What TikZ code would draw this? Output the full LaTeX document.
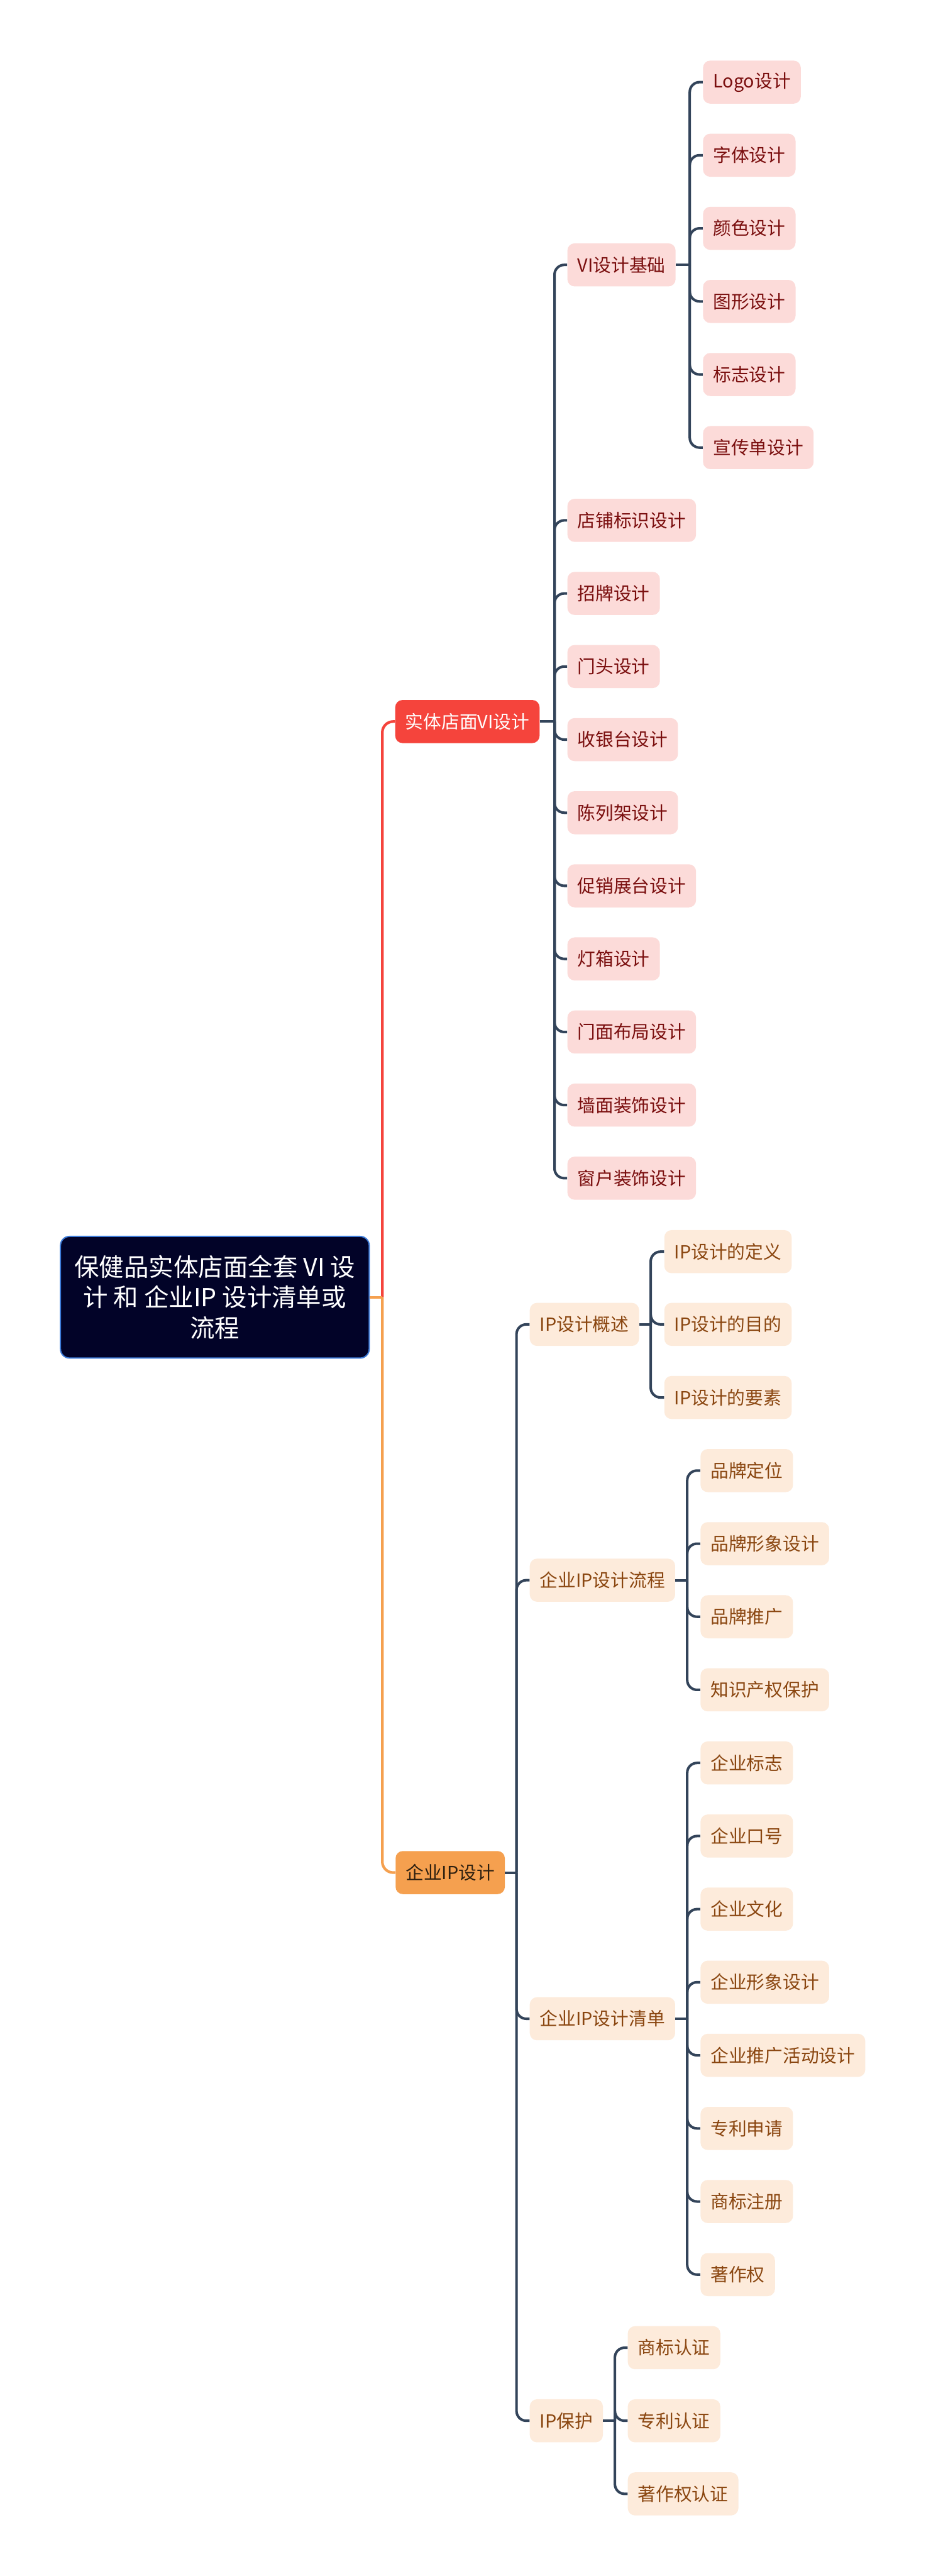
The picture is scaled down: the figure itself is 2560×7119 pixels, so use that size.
\documentclass[tikz,border=0pt]{standalone}
\usepackage{fontspec}
\setmainfont{Noto Sans CJK SC}
\usepackage{xcolor}
\usepackage{tikz}
\usetikzlibrary{positioning,calc}

\definecolor{rootfill}{HTML}{020328}
\definecolor{rootedge}{HTML}{3D7BD8}
\definecolor{shopred}{HTML}{F5443C}
\definecolor{iporange}{HTML}{F5A04F}
\definecolor{ipdark}{HTML}{2E2010}
\definecolor{pinkfill}{HTML}{FCDBD9}
\definecolor{pinktext}{HTML}{7A0E0E}
\definecolor{peachfill}{HTML}{FDEBDB}
\definecolor{peachtext}{HTML}{8A4610}
\definecolor{branchnavy}{HTML}{33445A}

\begin{document}
\begin{tikzpicture}[
    x=0.01cm, y=-0.01cm,
    font=\fontsize{14.2}{17}\selectfont,
    rootbox/.style={draw=rootedge, line width=1pt, fill=rootfill, rounded corners=0.25cm, text=white, align=center, minimum width=8.53cm, minimum height=3.36cm, font=\fontsize{19.5}{24}\selectfont},
    mainbox/.style={anchor=west, rounded corners=0.2cm, minimum height=1.19cm, inner xsep=0.28cm},
    shopbox/.style={mainbox, fill=pinkfill, text=pinktext},
    ipbox/.style={mainbox, fill=peachfill, text=peachtext},
    redline/.style={draw=shopred, line width=2.1pt, rounded corners=0.3cm},
    orgline/.style={draw=iporange, line width=2.1pt, rounded corners=0.3cm},
    navline/.style={draw=branchnavy, line width=2pt, rounded corners=0.27cm}
]
\fill[white] (0,0) rectangle (2560,7119);
\useasboundingbox (0,0) rectangle (2560,7119);

\node[rootbox] (root) at (594,3585) {保健品实体店面全套 VI 设\\计 和 企业IP 设计清单或\\流程};

\node[mainbox, fill=shopred, text=white] (shop) at (1092,1994) {实体店面VI设计};
\node[mainbox, fill=iporange, text=ipdark] (ipd) at (1093,5175) {企业IP设计};

\node[shopbox] (viBase) at (1568,732) {VI设计基础};
\node[shopbox] (signage) at (1568,1438) {店铺标识设计};
\node[shopbox] (signboard) at (1568,1640) {招牌设计};
\node[shopbox] (doorhead) at (1568,1842) {门头设计};
\node[shopbox] (cashier) at (1568,2044) {收银台设计};
\node[shopbox] (shelf) at (1568,2246) {陈列架设计};
\node[shopbox] (promo) at (1568,2448) {促销展台设计};
\node[shopbox] (lightbox) at (1568,2650) {灯箱设计};
\node[shopbox] (layout) at (1568,2852) {门面布局设计};
\node[shopbox] (wall) at (1568,3054) {墙面装饰设计};
\node[shopbox] (window) at (1568,3256) {窗户装饰设计};

\node[shopbox] (logo) at (1943,227) {Logo设计};
\node[shopbox] (typeface) at (1943,429) {字体设计};
\node[shopbox] (colour) at (1943,631) {颜色设计};
\node[shopbox] (graphic) at (1943,833) {图形设计};
\node[shopbox] (mark) at (1943,1035) {标志设计};
\node[shopbox] (flyer) at (1943,1237) {宣传单设计};

\node[ipbox] (ipIntro) at (1464,3660) {IP设计概述};
\node[ipbox] (ipFlow) at (1464,4367) {企业IP设计流程};
\node[ipbox] (ipList) at (1464,5579) {企业IP设计清单};
\node[ipbox] (ipProtect) at (1464,6690) {IP保护};

\node[ipbox] (ipDef) at (1836,3459) {IP设计的定义};
\node[ipbox] (ipGoal) at (1836,3660) {IP设计的目的};
\node[ipbox] (ipElem) at (1836,3862) {IP设计的要素};

\node[ipbox] (brandPos) at (1936,4064) {品牌定位};
\node[ipbox] (brandImg) at (1936,4266) {品牌形象设计};
\node[ipbox] (brandPromo) at (1936,4468) {品牌推广};
\node[ipbox] (ipRights) at (1936,4670) {知识产权保护};

\node[ipbox] (corpLogo) at (1936,4872) {企业标志};
\node[ipbox] (corpSlogan) at (1936,5074) {企业口号};
\node[ipbox] (corpCulture) at (1936,5276) {企业文化};
\node[ipbox] (corpImage) at (1936,5478) {企业形象设计};
\node[ipbox] (corpEvent) at (1936,5680) {企业推广活动设计};
\node[ipbox] (patentApp) at (1936,5882) {专利申请};
\node[ipbox] (tmReg) at (1936,6084) {商标注册};
\node[ipbox] (copyright) at (1936,6286) {著作权};

\node[ipbox] (tmCert) at (1735,6488) {商标认证};
\node[ipbox] (patentCert) at (1735,6690) {专利认证};
\node[ipbox] (copyCert) at (1735,6892) {著作权认证};

\coordinate (rootX) at (1057,3585);
\coordinate (shopX) at (1533,1994);
\coordinate (viX) at (1907,732);
\coordinate (ipdX) at (1428,5175);
\coordinate (introX) at (1799,3660);
\coordinate (flowX) at (1900,4367);
\coordinate (listX) at (1900,5579);
\coordinate (protX) at (1700,6690);

\draw[redline] (rootX) |- (shop.west);
\draw[orgline] (rootX) |- (ipd.west);
\draw[orgline] (root.east) -- (rootX);

\draw[navline] (shop.east) -- (shopX);
\draw[navline] (shopX) |- (viBase.west);
\draw[navline] (shopX) |- (signage.west);
\draw[navline] (shopX) |- (signboard.west);
\draw[navline] (shopX) |- (doorhead.west);
\draw[navline] (shopX) |- (cashier.west);
\draw[navline] (shopX) |- (shelf.west);
\draw[navline] (shopX) |- (promo.west);
\draw[navline] (shopX) |- (lightbox.west);
\draw[navline] (shopX) |- (layout.west);
\draw[navline] (shopX) |- (wall.west);
\draw[navline] (shopX) |- (window.west);

\draw[navline] (viBase.east) -- (viX);
\draw[navline] (viX) |- (logo.west);
\draw[navline] (viX) |- (typeface.west);
\draw[navline] (viX) |- (colour.west);
\draw[navline] (viX) |- (graphic.west);
\draw[navline] (viX) |- (mark.west);
\draw[navline] (viX) |- (flyer.west);

\draw[navline] (ipd.east) -- (ipdX);
\draw[navline] (ipdX) |- (ipIntro.west);
\draw[navline] (ipdX) |- (ipFlow.west);
\draw[navline] (ipdX) |- (ipList.west);
\draw[navline] (ipdX) |- (ipProtect.west);

\draw[navline] (ipIntro.east) -- (introX);
\draw[navline] (introX) |- (ipDef.west);
\draw[navline] (introX) |- (ipGoal.west);
\draw[navline] (introX) |- (ipElem.west);

\draw[navline] (ipFlow.east) -- (flowX);
\draw[navline] (flowX) |- (brandPos.west);
\draw[navline] (flowX) |- (brandImg.west);
\draw[navline] (flowX) |- (brandPromo.west);
\draw[navline] (flowX) |- (ipRights.west);

\draw[navline] (ipList.east) -- (listX);
\draw[navline] (listX) |- (corpLogo.west);
\draw[navline] (listX) |- (corpSlogan.west);
\draw[navline] (listX) |- (corpCulture.west);
\draw[navline] (listX) |- (corpImage.west);
\draw[navline] (listX) |- (corpEvent.west);
\draw[navline] (listX) |- (patentApp.west);
\draw[navline] (listX) |- (tmReg.west);
\draw[navline] (listX) |- (copyright.west);

\draw[navline] (ipProtect.east) -- (protX);
\draw[navline] (protX) |- (tmCert.west);
\draw[navline] (protX) |- (patentCert.west);
\draw[navline] (protX) |- (copyCert.west);
\end{tikzpicture}
\end{document}
